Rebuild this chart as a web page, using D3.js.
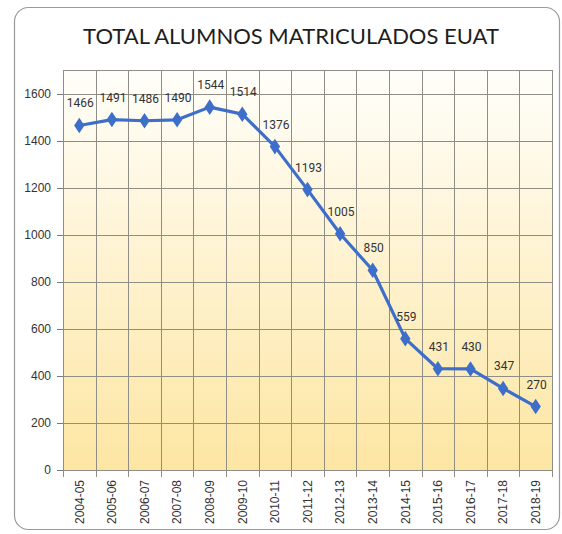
<!DOCTYPE html>
<html>
<head>
<meta charset="utf-8">
<script src="https://cdn.jsdelivr.net/npm/d3@7"></script>
<style>
  body { margin: 0; background: #fff; }
  .axis text { font-family: "Liberation Sans", Arial, sans-serif; font-size: 12px; fill: #333; }
  .axis path { display: none; }
  .axis line { stroke: #777; }
  .grid line { stroke: #8e8e86; stroke-width: 1; }
  .vlabel { font-family: Roboto, sans-serif; font-size: 12px; fill: #333; }
</style>
</head>
<body>
<div id="graph"></div>
<script>
// chart data
var years = ['2004-05', '2005-06', '2006-07', '2007-08', '2008-09', '2009-10', '2010-11',
  '2011-12', '2012-13', '2013-14', '2014-15', '2015-16', '2016-17', '2017-18', '2018-19'];
var alumnos = [1466, 1491, 1486, 1490, 1544, 1514, 1376, 1193, 1005, 850, 559, 431, 430, 347, 270];
var yTicks = [0, 200, 400, 600, 800, 1000, 1200, 1400, 1600];
var title = 'TOTAL ALUMNOS MATRICULADOS EUAT';

var W = 562, H = 534;
var margin = {top: 70, right: 10, bottom: 64, left: 63};
var width = 552 - margin.left;
var height = 470 - margin.top;

var svg = d3.select('#graph').append('svg')
  .attr('width', W)
  .attr('height', H);

// background gradient
var defs = svg.append('defs');
var grad = defs.append('linearGradient')
  .attr('id', 'bg').attr('x1', 0).attr('y1', 0).attr('x2', 0).attr('y2', 1);
grad.append('stop').attr('offset', '0%').attr('stop-color', '#fffefa');
grad.append('stop').attr('offset', '100%').attr('stop-color', '#fde6a3');

// outer frame
svg.append('rect')
  .attr('x', 14.5).attr('y', 7.5)
  .attr('width', 545).attr('height', 522)
  .attr('rx', 14)
  .attr('fill', '#fff')
  .attr('stroke', '#9a9a9a')
  .attr('stroke-width', 1.2);

svg.append('text')
  .attr('x', 291).attr('y', 44)
  .attr('text-anchor', 'middle')
  .style('font-family', 'Lato, "Noto Sans", sans-serif')
  .style('font-size', '22px')
  .style('fill', '#1e1e1e')
  .text(title);

var g = svg.append('g')
  .attr('transform', 'translate(' + margin.left + ',' + margin.top + ')');

var x = d3.scaleBand().domain(years).range([0, width]);
var y = d3.scaleLinear().domain([0, 1702]).range([height, 0]);

g.append('rect')
  .attr('width', width).attr('height', height)
  .attr('fill', 'url(#bg)');

// horizontal grid
g.append('g').attr('class', 'grid')
  .selectAll('line').data(yTicks.concat([1702])).enter().append('line')
  .attr('x1', 0).attr('x2', width)
  .attr('y1', function(d) { return Math.round(y(d)) + 0.5; })
  .attr('y2', function(d) { return Math.round(y(d)) + 0.5; });

// vertical grid on category boundaries
g.append('g').attr('class', 'grid')
  .selectAll('line').data(years.concat(['end'])).enter().append('line')
  .attr('x1', function(d, i) { return Math.round(i * x.step()) + 0.5; })
  .attr('x2', function(d, i) { return Math.round(i * x.step()) + 0.5; })
  .attr('y1', 0).attr('y2', height + 7);

// y axis
g.append('g').attr('class', 'axis')
  .call(d3.axisLeft(y).tickValues(yTicks).tickFormat(d3.format('d')).tickSize(6).tickPadding(6));

// x axis labels, rotated
g.append('g').attr('class', 'axis')
  .attr('transform', 'translate(0,' + height + ')')
  .call(d3.axisBottom(x).tickSize(0))
  .selectAll('text')
  .attr('transform', 'rotate(-90)')
  .attr('text-anchor', 'end')
  .attr('x', -10)
  .attr('y', 0)
  .attr('dy', '0.35em');

// line
var line = d3.line()
  .x(function(d, i) { return x(years[i]) + x.bandwidth() / 2; })
  .y(function(d) { return y(d); });

g.append('path')
  .datum(alumnos)
  .attr('fill', 'none')
  .attr('stroke', '#3d6ec9')
  .attr('stroke-width', 3.2)
  .attr('stroke-linejoin', 'round')
  .attr('d', line);

// diamond markers
g.selectAll('.marker').data(alumnos).enter().append('path')
  .attr('class', 'marker')
  .attr('d', d3.symbol().type(d3.symbolDiamond).size(70))
  .attr('transform', function(d, i) {
    return 'translate(' + (x(years[i]) + x.bandwidth() / 2) + ',' + y(d) + ') scale(1.15,1)';
  })
  .attr('fill', '#3d6ec9');

// value labels
g.selectAll('.vlabel').data(alumnos).enter().append('text')
  .attr('class', 'vlabel')
  .attr('x', function(d, i) { return x(years[i]) + x.bandwidth() / 2 + 1; })
  .attr('y', function(d) { return y(d) - 18; })
  .attr('text-anchor', 'middle')
  .text(function(d) { return d; });
</script>
</body>
</html>
